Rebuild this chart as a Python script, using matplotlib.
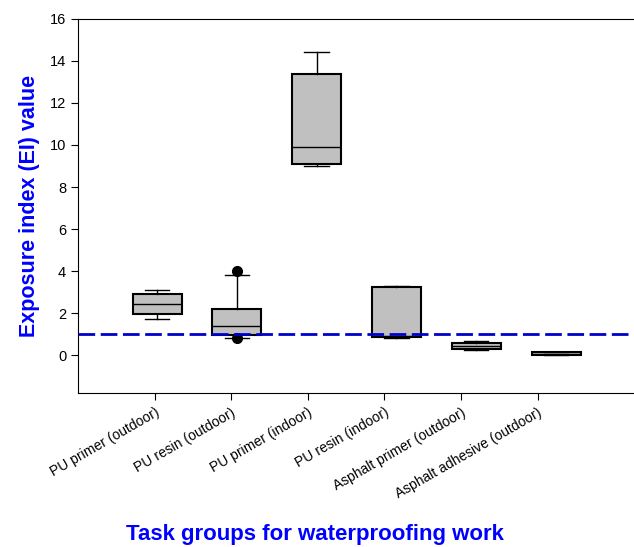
import numpy as np
import matplotlib.pyplot as plt

plt.rcParams['font.family'] = ['Liberation Sans', 'DejaVu Sans']

groups = ["PU primer (outdoor)", "PU resin (outdoor)", "PU primer (indoor)",
          "PU resin (indoor)", "Asphalt primer (outdoor)", "Asphalt adhesive (outdoor)"]
whis_lo = [1.71, 0.83, 9.00, 0.83, 0.24, 0.00]
q1 = [1.97, 0.95, 9.10, 0.86, 0.30, 0.02]
medians = [2.44, 1.37, 9.90, 0.90, 0.45, 0.06]
q3 = [2.89, 2.20, 13.40, 3.24, 0.59, 0.13]
whis_hi = [3.10, 3.82, 14.42, 3.29, 0.67, 0.17]
outliers = [[], [0.80, 4.01], [], [], [], []]
ei_limit = 1.0

stats = []
for i in range(len(groups)):
    stats.append({"whislo": whis_lo[i], "q1": q1[i], "med": medians[i],
                  "q3": q3[i], "whishi": whis_hi[i], "fliers": outliers[i]})

fig = plt.figure(figsize=(6.34, 5.47), dpi=100)
ax = fig.add_axes([0.123, 0.2815, 0.877, 0.684])

# boxes sit a little off the ticks, as in the original
ticks = np.arange(1, len(groups) + 1)
box_pos = ticks * 1.042 - 0.01

ax.bxp(stats, positions=box_pos, widths=0.64, patch_artist=True,
       boxprops=dict(facecolor="#c0c0c0", edgecolor="black", linewidth=1.5),
       medianprops=dict(color="black", linewidth=1),
       whiskerprops=dict(color="black", linewidth=1),
       capprops=dict(color="black", linewidth=1),
       capwidths=0.32,
       flierprops=dict(marker="o", markerfacecolor="black", markeredgecolor="black", markersize=7))

ax.axhline(ei_limit, color="#0000cc", linestyle=(0, (6, 2)), linewidth=2, zorder=5)

ax.set_xlim(0, 7.26)
ax.set_ylim(-1.8, 16)
ax.set_yticks(np.arange(0, 17, 2))
ax.set_xticks(ticks)
ax.set_xticklabels(groups, rotation=30, ha="right", rotation_mode="anchor", fontsize=10)
ax.tick_params(axis="y", labelsize=10.5, direction="out", length=5)
ax.tick_params(axis="x", direction="out", length=5, pad=4)
ax.spines["right"].set_visible(False)

ax.set_ylabel("Exposure index (EI) value", color="#0000ff", fontsize=15.5, fontweight="bold", labelpad=7)
fig.text(0.497, 0.012, "Task groups for waterproofing work", color="#0000ff",
         fontsize=16, fontweight="bold", ha="center")

fig.savefig("out.png", dpi=100)
